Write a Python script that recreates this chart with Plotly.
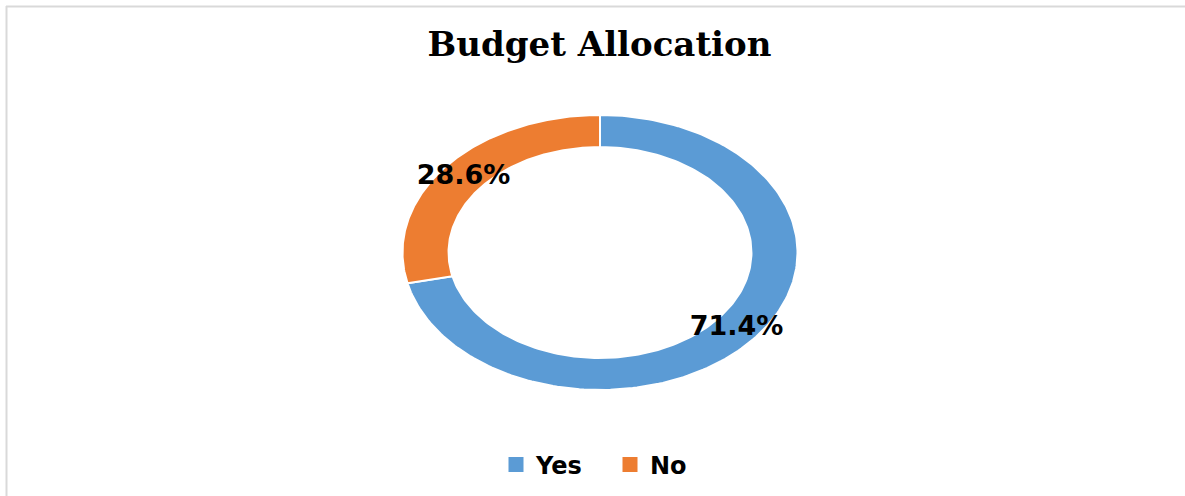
import numpy as np
import plotly.graph_objects as go

categories = ["Yes", "No"]
values = [71.4, 28.6]
colors = ["#5B9BD5", "#ED7D31"]
title_text = "Budget Allocation"

W, H = 1185, 496
cx_px, cy_px = 600, 252.5
rx_px, ry_px = 197.5, 137.5
hole = 0.767

fig = go.Figure()

total = sum(values)
cum = 0.0
label_x, label_y, label_t = [], [], []
for cat, val, col in zip(categories, values, colors):
    f0 = cum / total
    f1 = (cum + val) / total
    cum += val
    t = np.linspace(f0, f1, 200)
    ang = np.pi / 2 - 2 * np.pi * t
    xo, yo = np.cos(ang), np.sin(ang)
    xi, yi = hole * np.cos(ang[::-1]), hole * np.sin(ang[::-1])
    xs = np.concatenate([xo, xi, xo[:1]])
    ys = np.concatenate([yo, yi, yo[:1]])
    fig.add_trace(go.Scatter(x=xs, y=ys, fill="toself", fillcolor=col, mode="lines",
                             line=dict(color="white", width=2), showlegend=False,
                             hoverinfo="skip"))
    fm = (f0 + f1) / 2
    am = np.pi / 2 - 2 * np.pi * fm
    rm = (1 + hole) / 2
    label_x.append(rm * np.cos(am))
    label_y.append(rm * np.sin(am))
    label_t.append(f"{val / total * 100:.1f}%")

fig.add_trace(go.Scatter(x=label_x, y=label_y, text=label_t, mode="text",
                         textfont=dict(family="DejaVu Sans", size=27, color="black", weight="bold"),
                         showlegend=False, hoverinfo="skip"))

for cat, col in zip(categories, colors):
    fig.add_trace(go.Scatter(x=[None], y=[None], mode="markers", name=cat,
                             marker=dict(symbol="square", size=15, color=col)))

xr = [-cx_px / rx_px, (W - cx_px) / rx_px]
yr = [-(H - cy_px) / ry_px, cy_px / ry_px]

fig.update_layout(
    width=W, height=H,
    margin=dict(l=0, r=0, t=0, b=0),
    paper_bgcolor="white", plot_bgcolor="white",
    xaxis=dict(range=xr, visible=False, fixedrange=True),
    yaxis=dict(range=yr, visible=False, fixedrange=True),
    title=dict(text=title_text, x=599.5 / W, xanchor="center", y=1 - 44 / H, yanchor="middle",
               font=dict(family="DejaVu Serif", size=34, color="black", weight="bold")),
    legend=dict(orientation="h", x=496 / W, xanchor="left", y=1 - 465 / H, yanchor="middle",
                font=dict(family="DejaVu Sans", size=24, color="black", weight="bold"),
                entrywidth=69, bgcolor="rgba(0,0,0,0)"),
    shapes=[
        dict(type="line", xref="paper", yref="paper", x0=6 / W, x1=1.0, y0=1 - 6.5 / H, y1=1 - 6.5 / H,
             line=dict(color="#d9d9d9", width=2)),
        dict(type="line", xref="paper", yref="paper", x0=6.5 / W, x1=6.5 / W, y0=0, y1=1 - 6 / H,
             line=dict(color="#d9d9d9", width=2)),
    ],
)

fig.write_html("out.html", config={"displayModeBar": False},
               post_script="document.body.style.margin='0px';")
